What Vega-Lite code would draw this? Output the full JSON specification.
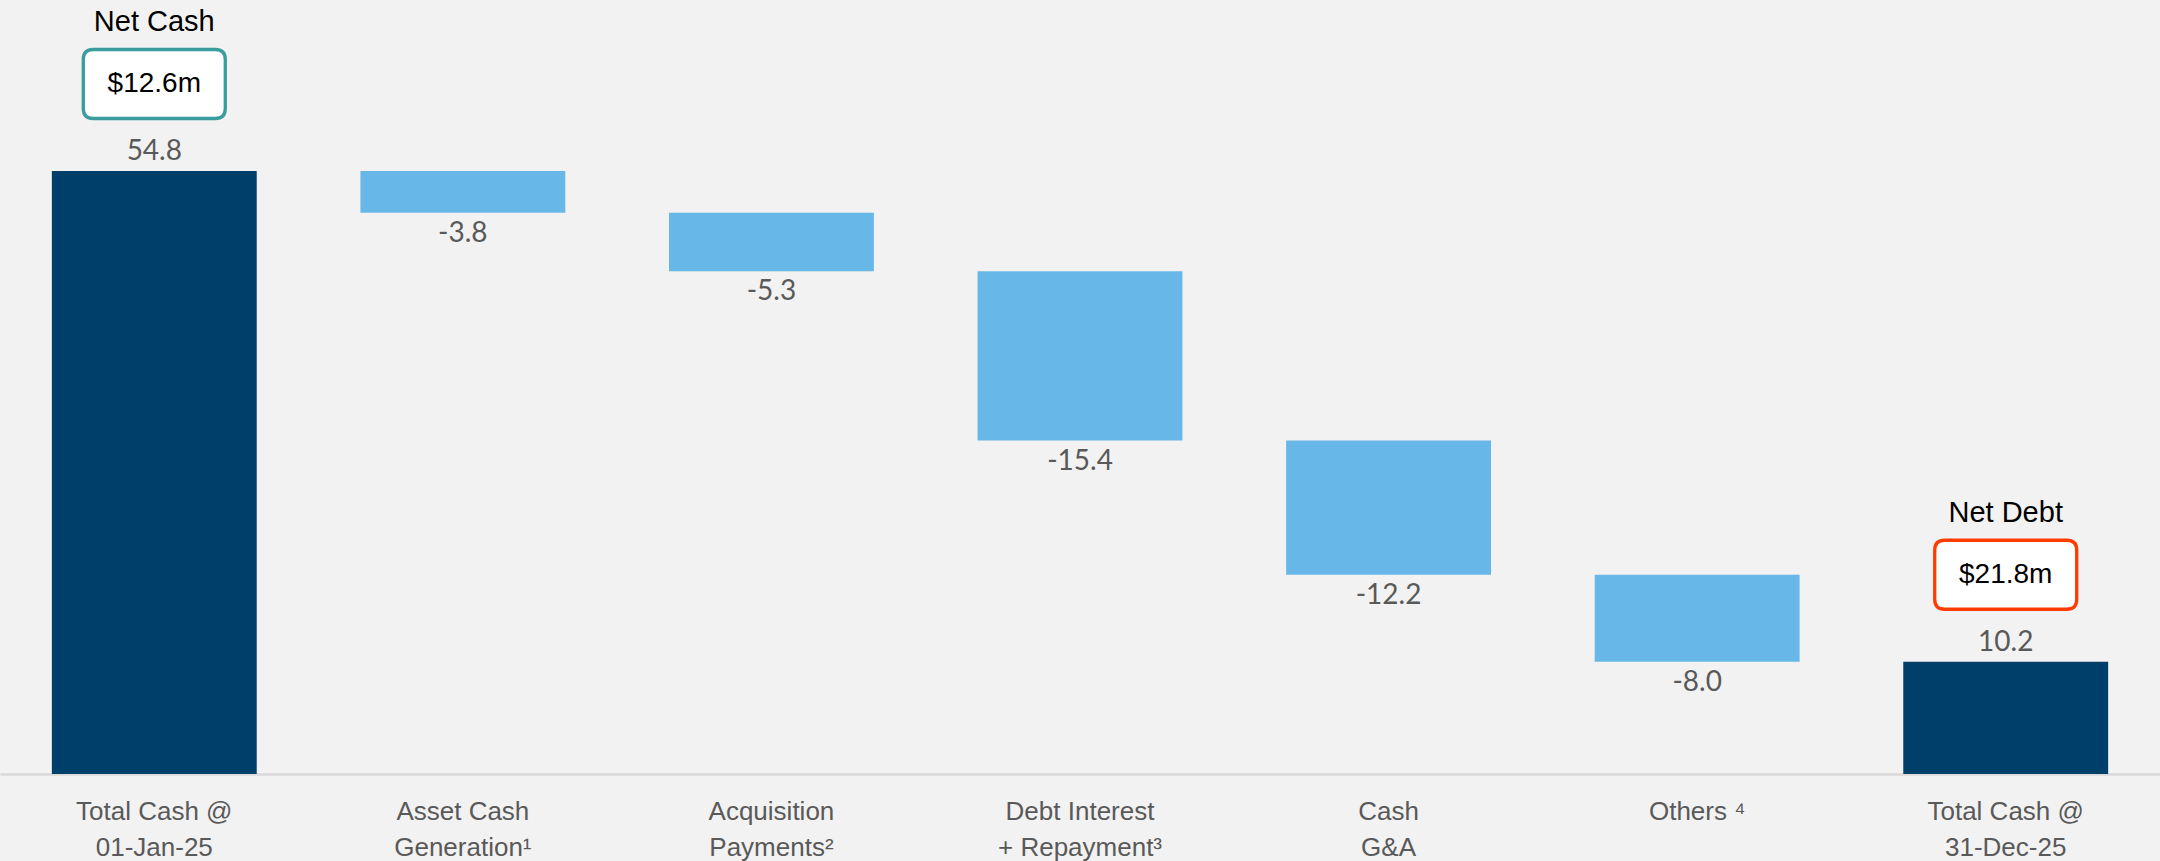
{
  "$schema": "https://vega.github.io/schema/vega-lite/v6.json",
  "width": 2160,
  "height": 774,
  "autosize": {"type": "none"},
  "padding": {"left": 0, "right": 0, "top": 0, "bottom": 87},
  "background": "#f2f2f2",
  "config": {"view": {"stroke": null}},
  "data": {
    "values": [
      {"cat": "Total Cash @|01-Jan-25", "amount": 54.8, "lo": 0, "hi": 54.8, "kind": "total", "label": "54.8", "note": "Net Cash", "box": "$12.6m", "status": "cash"},
      {"cat": "Asset Cash|Generation¹", "amount": -3.8, "lo": 51.0, "hi": 54.8, "kind": "step", "label": "-3.8"},
      {"cat": "Acquisition|Payments²", "amount": -5.3, "lo": 45.7, "hi": 51.0, "kind": "step", "label": "-5.3"},
      {"cat": "Debt Interest|+ Repayment³", "amount": -15.4, "lo": 30.3, "hi": 45.7, "kind": "step", "label": "-15.4"},
      {"cat": "Cash|G&A", "amount": -12.2, "lo": 18.1, "hi": 30.3, "kind": "step", "label": "-12.2"},
      {"cat": "Others ⁴", "amount": -8.0, "lo": 10.2, "hi": 18.1, "kind": "step", "label": "-8.0"},
      {"cat": "Total Cash @|31-Dec-25", "amount": 10.2, "lo": 0, "hi": 10.2, "kind": "total", "label": "10.2", "note": "Net Debt", "box": "$21.8m", "status": "debt"}
    ]
  },
  "encoding": {
    "x": {
      "field": "cat",
      "type": "nominal",
      "sort": null,
      "scale": {"paddingInner": 0.336, "paddingOuter": 0.168},
      "axis": {
        "title": null,
        "labelAngle": 0,
        "labelExpr": "split(datum.label, '|')",
        "labelFont": "Liberation Sans",
        "labelFontSize": 26,
        "labelColor": "#595959",
        "labelLineHeight": 36,
        "labelPadding": 24,
        "ticks": false,
        "domainColor": "#d9d9d9",
        "domainWidth": 2.5,
        "grid": false
      }
    }
  },
  "layer": [
    {
      "mark": {"type": "bar", "width": {"band": 1}},
      "encoding": {
        "y": {"field": "hi", "type": "quantitative", "scale": {"domain": [0, 70.34], "nice": false}, "axis": null},
        "y2": {"field": "lo"},
        "color": {"field": "kind", "type": "nominal", "scale": {"domain": ["total", "step"], "range": ["#003f6a", "#67b8e8"]}, "legend": null}
      }
    },
    {
      "transform": [{"filter": "datum.kind == 'total'"}],
      "mark": {"type": "text", "font": "Lato", "fontSize": 28, "color": "#595959", "baseline": "middle", "dy": -19},
      "encoding": {
        "y": {"field": "hi", "type": "quantitative"},
        "text": {"field": "label"}
      }
    },
    {
      "transform": [{"filter": "datum.kind == 'step'"}],
      "mark": {"type": "text", "font": "Lato", "fontSize": 28, "color": "#595959", "baseline": "middle", "dy": 21},
      "encoding": {
        "y": {"field": "lo", "type": "quantitative"},
        "text": {"field": "label"}
      }
    },
    {
      "transform": [{"filter": "datum.note"}],
      "mark": {
        "type": "point",
        "shape": "M -0.859,-0.486 L 0.859,-0.486 Q 1,-0.486 1,-0.345 L 1,0.345 Q 1,0.486 0.859,0.486 L -0.859,0.486 Q -1,0.486 -1,0.345 L -1,-0.345 Q -1,-0.486 -0.859,-0.486 Z",
        "size": 20164,
        "filled": true,
        "fill": "#ffffff",
        "strokeWidth": 3.3,
        "opacity": 1,
        "fillOpacity": 1,
        "strokeOpacity": 1,
        "yOffset": -87
      },
      "encoding": {
        "y": {"field": "hi", "type": "quantitative"},
        "stroke": {"field": "status", "type": "nominal", "scale": {"domain": ["cash", "debt"], "range": ["#3a9c9c", "#ff3c00"]}, "legend": null}
      }
    },
    {
      "transform": [{"filter": "datum.note"}],
      "mark": {"type": "text", "font": "Liberation Sans", "fontSize": 28, "color": "#000000", "baseline": "middle", "dy": -87},
      "encoding": {
        "y": {"field": "hi", "type": "quantitative"},
        "text": {"field": "box"}
      }
    },
    {
      "transform": [{"filter": "datum.note"}],
      "mark": {"type": "text", "font": "Liberation Sans", "fontSize": 29, "color": "#000000", "baseline": "middle", "dy": -149},
      "encoding": {
        "y": {"field": "hi", "type": "quantitative"},
        "text": {"field": "note"}
      }
    }
  ]
}
